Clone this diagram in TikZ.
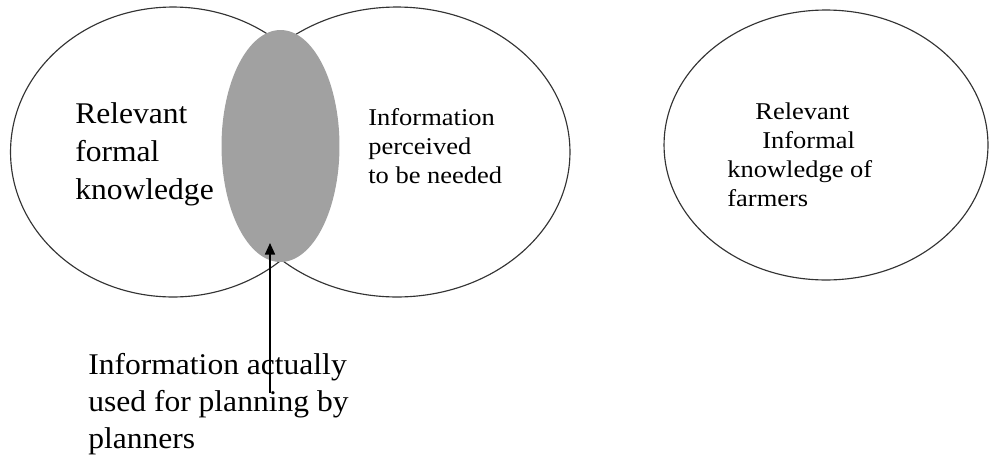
\documentclass[tikz,border=0pt]{standalone}
\usepackage{fontspec}
\setmainfont{Liberation Serif}
\newfontfamily\bigfont{Liberation Serif}[FakeStretch=1.05]
\newfontfamily\widefont{Liberation Serif}[FakeStretch=1.1]
\usetikzlibrary{shapes.geometric,arrows.meta}

\begin{document}
\begin{tikzpicture}[x=0.02cm,y=-0.02cm,
                    venn/.style={ellipse,draw=black!80,line width=0.65pt,inner sep=0pt},
                    bigtxt/.style={anchor=base west,align=left,inner sep=0pt,font=\bigfont\fontsize{17.1pt}{21.6pt}\selectfont},
                    smalltxt/.style={anchor=base west,align=left,inner sep=0pt,font=\widefont\fontsize{13.7pt}{16.5pt}\selectfont},
                    >={Triangle[length=2.3mm,width=2mm]}]
  \useasboundingbox (0,0) rectangle (989,460);
  % the two overlapping sets
  \node[venn,minimum width=6.5cm,minimum height=5.8cm] (formal) at (173,152) {};
  \node[venn,minimum width=6.92cm,minimum height=5.8cm] (needed) at (397,152) {};
  \node[ellipse,fill=black!37,inner sep=0pt,minimum width=2.36cm,minimum height=4.64cm] (used) at (280.5,146) {};
  \node[venn,minimum width=6.48cm,minimum height=5.4cm] (farmers) at (826,145) {};
  % labels (base = last line)
  \node[bigtxt] (formaltxt) at (75,199) {Relevant\\formal\\knowledge};
  \node[smalltxt] (neededtxt) at (368,183) {Information\\perceived\\to be needed};
  \node[smalltxt] (farmerstxt) at (727,206) {\hspace*{0.56cm}Relevant\\\hspace*{0.7cm}Informal\\knowledge of\\farmers};
  \node[bigtxt,font=\bigfont\fontsize{17.1pt}{20.8pt}\selectfont] (usedtxt) at (88,448) {Information actually\\used for planning by\\planners};
  \coordinate (tail) at (270,393);
  \coordinate (tip) at (270,243);
  \draw[->,line width=0.9pt] (tail) -- (tip);
\end{tikzpicture}
\end{document}
